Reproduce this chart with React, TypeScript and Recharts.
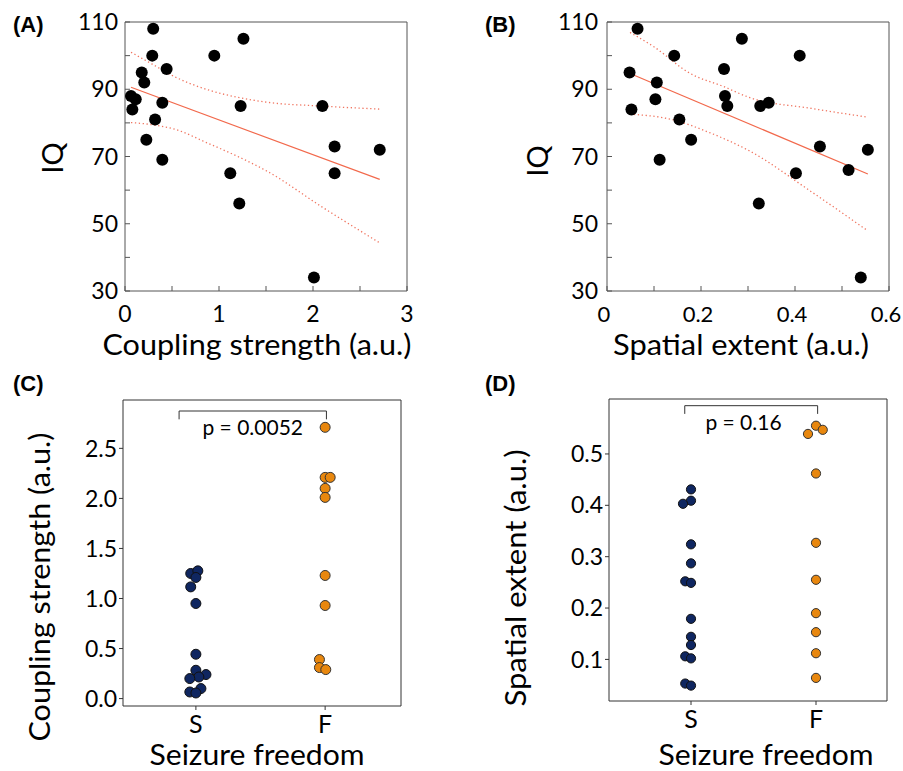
import React from 'react';
import {
  ScatterChart,
  Scatter,
  XAxis,
  YAxis,
  ReferenceLine,
  ReferenceDot,
} from 'recharts';

const FONT = 'Lato, "Open Sans", sans-serif';
const BOLD_FONT = '"Liberation Sans", Arial, sans-serif';

// (A) coupling strength vs IQ
const couplingA = [0.3, 0.29, 0.178, 0.205, 0.443, 0.064, 0.114, 0.078, 0.397, 0.32, 0.227, 0.397, 0.95, 1.26, 1.23, 1.12, 1.216, 2.1, 2.23, 2.23, 2.71, 2.01];
const iqA = [108, 100, 95, 92, 96, 88, 87, 84, 86, 81, 75, 69, 100, 105, 85, 65, 56, 85, 73, 65, 72, 34];
const fitAX = [0.064, 2.71];
const fitAY = [90.6, 63.2];
const ciAX = [0.064, 0.3, 0.53, 0.886, 1.2, 1.52, 2.09, 2.71];
const ciAUpper = [101.0, 97.3, 93.7, 89.8, 87.6, 86.1, 85.0, 84.1];
const ciALower = [80.1, 79.4, 78.1, 73.9, 70.0, 65.5, 55.1, 44.3];

// (B) spatial extent vs IQ
const extentB = [0.065, 0.143, 0.287, 0.41, 0.048, 0.249, 0.106, 0.103, 0.251, 0.256, 0.326, 0.344, 0.052, 0.154, 0.179, 0.112, 0.453, 0.555, 0.402, 0.514, 0.323, 0.54];
const iqB = [108, 100, 105, 100, 95, 96, 92, 87, 88, 85, 85, 86, 84, 81, 75, 69, 73, 72, 65, 66, 56, 34];
const fitBX = [0.049, 0.555];
const fitBY = [94.7, 64.8];
const ciBUpperX = [0.049, 0.099, 0.177, 0.248, 0.304, 0.435, 0.555];
const ciBUpper = [106.9, 102.7, 94.7, 90.8, 87.5, 84.3, 81.7];
const ciBLowerX = [0.049, 0.141, 0.22, 0.304, 0.435, 0.555];
const ciBLower = [82.6, 80.9, 77.0, 71.6, 59.5, 47.9];

const iqTicks = [30, 40, 50, 60, 70, 80, 90, 100, 110];
const couplingTicksA = [0, 0.5, 1, 1.5, 2, 2.5, 3];
const extentTicksB = [0, 0.1, 0.2, 0.3, 0.4, 0.5, 0.6];

// (C) coupling strength by seizure freedom (S = 0, F = 1, with swarm offset)
const couplingS = [1.25, 1.276, 1.21, 1.116, 0.95, 0.443, 0.283, 0.24, 0.216, 0.2, 0.1, 0.066, 0.056];
const couplingSOffset = [-0.04, 0.015, 0, -0.04, 0, 0, 0, 0.078, 0.023, -0.047, 0.039, -0.047, 0];
const couplingF = [2.71, 2.21, 2.21, 2.1, 2.01, 1.23, 0.93, 0.39, 0.31, 0.29];
const couplingFOffset = [0, 0, 0.039, 0, 0, 0, 0, -0.044, -0.044, 0.005];
const couplingTicksC = [0, 0.5, 1, 1.5, 2, 2.5];

// (D) spatial extent by seizure freedom
const extentS = [0.431, 0.409, 0.403, 0.324, 0.287, 0.252, 0.249, 0.179, 0.144, 0.128, 0.106, 0.102, 0.053, 0.049];
const extentSOffset = [0, 0, -0.064, 0, 0, -0.046, 0, 0, 0, 0, -0.046, 0, -0.046, 0];
const extentF = [0.539, 0.555, 0.547, 0.462, 0.327, 0.255, 0.19, 0.153, 0.112, 0.064];
const extentFOffset = [-0.064, 0, 0.054, 0, 0, 0, 0, 0, 0, 0];
const extentTicksD = [0.1, 0.2, 0.3, 0.4, 0.5];

const groups = ['S', 'F'];

type Pt = { x: number; y: number };
const zip = (xs: number[], ys: number[]): Pt[] => xs.map((x, i) => ({ x, y: ys[i] }));
const swarm = (g: number, ys: number[], offs: number[]): Pt[] =>
  ys.map((y, i) => ({ x: g + offs[i], y }));

const dot = (r: number, fill: string, stroke = 'none') => (p: any) =>
  <circle cx={p.cx} cy={p.cy} r={r} fill={fill} stroke={stroke} strokeWidth={1} />;
const noDot = () => <g />;

const FIT = '#f2694c';
const CI = '#f07560';
const BOX = '#555';

interface IqProps {
  width: number;
  height: number;
  margin: { top: number; right: number; bottom: number; left: number };
  points: Pt[];
  fit: Pt[];
  upper: Pt[];
  lower: Pt[];
  xDomain: [number, number];
  xTicks: number[];
  xFmt: (v: number) => string;
  xFont: number;
  xDx: number;
  yTickMargin: number;
}

const IqPanel: React.FC<IqProps> = ({ width, height, margin, points, fit, upper, lower, xDomain, xTicks, xFmt, xFont, xDx, yTickMargin }) => {
  const tickStyle = { fontSize: 23, fill: '#000', fontFamily: FONT };
  const ciLine = { stroke: CI, strokeWidth: 1.3, strokeDasharray: '1.3 2.6' };
  const xTick = (p: any) => (
    <text x={p.x + xDx} y={p.y} dy="0.71em" textAnchor="middle" fontSize={xFont} fill="#000" fontFamily={FONT}>
      {xFmt(p.payload.value)}
    </text>
  );
  return (
    <ScatterChart width={width} height={height} margin={margin}>
      <XAxis xAxisId="b" type="number" dataKey="x" domain={xDomain} ticks={xTicks} interval={0}
        allowDataOverflow height={50} stroke={BOX} tickSize={-5} tickMargin={20} tick={xTick} />
      <XAxis xAxisId="t" orientation="top" type="number" dataKey="x" domain={xDomain} ticks={xTicks} interval={0}
        allowDataOverflow height={1} stroke={BOX} tickSize={-5} tick={false} />
      <YAxis yAxisId="l" type="number" dataKey="y" domain={[30, 110]} ticks={iqTicks} interval={0}
        allowDataOverflow width={60} stroke={BOX} tickSize={-5} tickMargin={yTickMargin}
        tickFormatter={(v: number) => ((v - 30) % 20 === 0 ? String(v) : '')} tick={tickStyle} />
      <YAxis yAxisId="r" orientation="right" type="number" dataKey="y" domain={[30, 110]} ticks={iqTicks} interval={0}
        allowDataOverflow width={1} stroke={BOX} tickSize={-5} tick={false} />
      <Scatter xAxisId="b" yAxisId="l" data={upper} shape={noDot} line={ciLine}
        lineJointType="monotoneX" isAnimationActive={false} />
      <Scatter xAxisId="b" yAxisId="l" data={lower} shape={noDot} line={ciLine}
        lineJointType="monotoneX" isAnimationActive={false} />
      <Scatter xAxisId="b" yAxisId="l" data={fit} shape={noDot} line={{ stroke: FIT, strokeWidth: 1.2 }}
        isAnimationActive={false} />
      <Scatter xAxisId="b" yAxisId="l" data={points} shape={dot(6, '#000')} isAnimationActive={false} />
    </ScatterChart>
  );
};

interface StripProps {
  width: number;
  height: number;
  margin: { top: number; right: number; bottom: number; left: number };
  s: Pt[];
  f: Pt[];
  xDomain: [number, number];
  yDomain: [number, number];
  yTicks: number[];
  yTickMargin: number;
  r: number;
  bracket: { x0: number; x1: number; top: number; end: number };
  pText: { x: number; y: number; value: string };
}

const StripPanel: React.FC<StripProps> = ({ width, height, margin, s, f, xDomain, yDomain, yTicks, yTickMargin, r, bracket, pText }) => {
  const axisColor = '#333';
  return (
    <ScatterChart width={width} height={height} margin={margin}>
      <XAxis xAxisId="b" type="number" dataKey="x" domain={xDomain} ticks={[0, 1]} interval={0}
        allowDataOverflow height={40} stroke={axisColor} tickSize={4} tickMargin={5}
        tickFormatter={(v: number) => groups[v]} tick={{ fontSize: 25, fill: '#000', fontFamily: FONT }} />
      <XAxis xAxisId="t" orientation="top" type="number" dataKey="x" domain={xDomain} ticks={[0, 1]}
        allowDataOverflow height={1} stroke={axisColor} tick={false} tickLine={false} />
      <YAxis yAxisId="l" type="number" dataKey="y" domain={yDomain} ticks={yTicks} interval={0}
        allowDataOverflow width={60} stroke={axisColor} tickSize={4} tickMargin={yTickMargin}
        tickFormatter={(v: number) => v.toFixed(1)} tick={{ fontSize: 23, fill: '#000', fontFamily: FONT }} />
      <YAxis yAxisId="r" orientation="right" type="number" dataKey="y" domain={yDomain} ticks={yTicks}
        allowDataOverflow width={1} stroke={axisColor} tick={false} tickLine={false} />
      <ReferenceLine xAxisId="b" yAxisId="l" stroke="#333" strokeWidth={1}
        segment={[{ x: bracket.x0, y: bracket.top }, { x: bracket.x1, y: bracket.top }]} />
      <ReferenceLine xAxisId="b" yAxisId="l" stroke="#333" strokeWidth={1}
        segment={[{ x: bracket.x0, y: bracket.top }, { x: bracket.x0, y: bracket.end }]} />
      <ReferenceLine xAxisId="b" yAxisId="l" stroke="#333" strokeWidth={1}
        segment={[{ x: bracket.x1, y: bracket.top }, { x: bracket.x1, y: bracket.end }]} />
      <ReferenceDot xAxisId="b" yAxisId="l" x={pText.x} y={pText.y} r={0} stroke="none"
        label={{ value: pText.value, position: 'center', fontSize: 21, fill: '#000', fontFamily: FONT }} />
      <Scatter xAxisId="b" yAxisId="l" data={s} shape={dot(r, '#0f2660', '#111')} isAnimationActive={false} />
      <Scatter xAxisId="b" yAxisId="l" data={f} shape={dot(r, '#e8870e', '#333')} isAnimationActive={false} />
    </ScatterChart>
  );
};

const titles = [
  { t: 'Coupling strength (a.u.)', x: 257, y: 355, rot: false, size: 28, len: 309 },
  { t: 'IQ', x: 63, y: 158, rot: true, size: 29, len: 0 },
  { t: 'Spatial extent (a.u.)', x: 741, y: 355, rot: false, size: 28, len: 256 },
  { t: 'IQ', x: 548, y: 161, rot: true, size: 29, len: 0 },
  { t: 'Seizure freedom', x: 257, y: 765, rot: false, size: 28, len: 215 },
  { t: 'Coupling strength (a.u.)', x: 50, y: 587, rot: true, size: 28, len: 309 },
  { t: 'Seizure freedom', x: 766, y: 765, rot: false, size: 28, len: 215 },
  { t: 'Spatial extent (a.u.)', x: 526, y: 578, rot: true, size: 28, len: 257 },
];
const panelTags = [
  { t: '(A)', x: 13, y: 32 },
  { t: '(B)', x: 485, y: 32 },
  { t: '(C)', x: 13, y: 391 },
  { t: '(D)', x: 485, y: 391 },
];

export default function App() {
  const abs = (left: number, top: number): React.CSSProperties => ({ position: 'absolute', left, top });
  return (
    <div style={{ position: 'absolute', left: 0, top: 0, width: 903, height: 771, background: '#fff', overflow: 'hidden' }}>
      <div style={abs(0, 0)}>
        <IqPanel width={450} height={380} margin={{ top: 21, right: 42, bottom: 39, left: 65 }}
          points={zip(couplingA, iqA)} fit={zip(fitAX, fitAY)} upper={zip(ciAX, ciAUpper)} lower={zip(ciAX, ciALower)}
          xDomain={[0, 3]} xTicks={couplingTicksA} xFmt={(v) => (Number.isInteger(v) ? String(v) : '')}
          xFont={23} xDx={0} yTickMargin={12} />
      </div>
      <div style={abs(450, 0)}>
        <IqPanel width={453} height={380} margin={{ top: 21, right: 13, bottom: 39, left: 97 }}
          points={zip(extentB, iqB)} fit={zip(fitBX, fitBY)} upper={zip(ciBUpperX, ciBUpper)} lower={zip(ciBLowerX, ciBLower)}
          xDomain={[0, 0.6]} xTicks={extentTicksB}
          xFmt={(v) => (v === 0 ? '0' : Math.round(v * 10) % 2 === 0 ? v.toFixed(1) : '')}
          xFont={22} xDx={-3} yTickMargin={14} />
      </div>
      <div style={abs(0, 380)}>
        <StripPanel width={450} height={391} margin={{ top: 19, right: 48, bottom: 25, left: 63 }}
          s={swarm(0, couplingS, couplingSOffset)} f={swarm(1, couplingF, couplingFOffset)}
          xDomain={[-0.564, 1.587]} yDomain={[-0.074, 2.983]} yTicks={couplingTicksC} yTickMargin={2} r={5}
          bracket={{ x0: -0.13, x1: 1.01, top: 2.873, end: 2.79 }} pText={{ x: 0.44, y: 2.71, value: 'p = 0.0052' }} />
      </div>
      <div style={abs(450, 380)}>
        <StripPanel width={453} height={391} margin={{ top: 18, right: 15, bottom: 30, left: 99 }}
          s={swarm(0, extentS, extentSOffset)} f={swarm(1, extentF, extentFOffset)}
          xDomain={[-0.656, 1.568]} yDomain={[0.019, 0.607]} yTicks={extentTicksD} yTickMargin={2} r={4.6}
          bracket={{ x0: -0.05, x1: 1.013, top: 0.594, end: 0.578 }} pText={{ x: 0.42, y: 0.562, value: 'p = 0.16' }} />
      </div>
      <svg width={903} height={771} style={{ position: 'absolute', left: 0, top: 0, pointerEvents: 'none' }}>
        {titles.map((d, i) => (
          <text key={i} x={d.x} y={d.y} textAnchor="middle" fontFamily={FONT} fontSize={d.size} fill="#000"
            textLength={d.len || undefined} lengthAdjust={d.len ? 'spacingAndGlyphs' : undefined}
            transform={d.rot ? `rotate(-90 ${d.x} ${d.y})` : undefined}>{d.t}</text>
        ))}
        {panelTags.map((d, i) => (
          <text key={i} x={d.x} y={d.y} fontFamily={BOLD_FONT} fontWeight="bold" fontSize={22} fill="#000">{d.t}</text>
        ))}
      </svg>
    </div>
  );
}
